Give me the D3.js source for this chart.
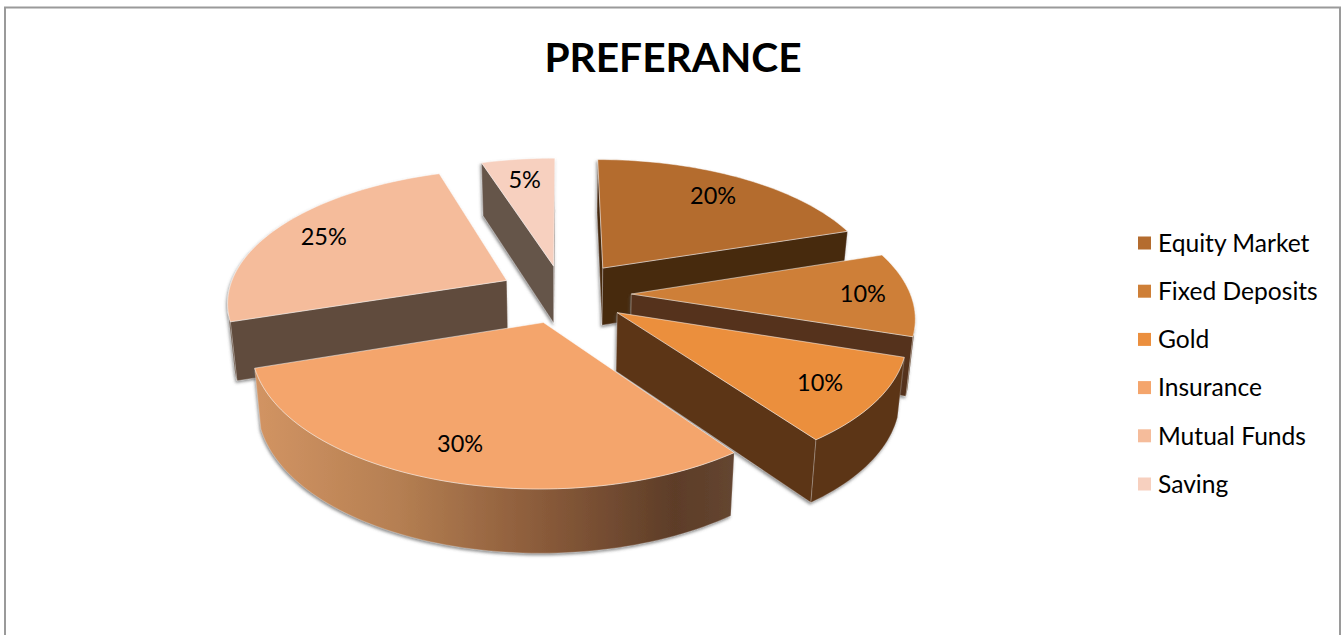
<!DOCTYPE html>
<html>
<head>
<meta charset="utf-8">
<script src="https://cdnjs.cloudflare.com/ajax/libs/d3/7.8.5/d3.min.js"></script>
<style>
html,body{margin:0;padding:0;background:#fff;overflow:hidden}
svg{display:block}
text{font-family:Lato,"Open Sans",sans-serif;fill:#000}
</style>
</head>
<body>
<svg id="c" width="1342" height="635"></svg>
<script>
const titleText = "PREFERANCE";
const categories = ["Equity Market","Fixed Deposits","Gold","Insurance","Mutual Funds","Saving"];
const shares = [20,10,10,30,25,5];
const topColors = ["#B46C2F","#CE7F37","#EB8F3E","#F4A56C","#F5BC9B","#F7D0BF"];
const sideColors = ["#472911","#55331A","#5C3619","url(#insWall)","#614B3C","#65544A"];
const explosions = [0.25,0.245,0.235,0.22,0.23,0.22];
const labelRadii = [0.78,0.83,0.8,0.8,0.8,0.79];
const drawOrder = [5,0,4,1,2,3];

const W=1342,H=635;
const svg=d3.select("#c");
const defs=svg.append("defs");

const grad=defs.append("linearGradient").attr("id","insWall").attr("gradientUnits","userSpaceOnUse")
  .attr("x1",255).attr("x2",732).attr("y1",0).attr("y2",0);
[[0,"#D29463"],[0.3,"#B57F52"],[0.6,"#8A5B3A"],[0.88,"#5D3D28"],[1,"#644530"]].forEach(s=>
  grad.append("stop").attr("offset",s[0]).attr("stop-color",s[1]));

const f=defs.append("filter").attr("id","shadow").attr("x","-10%").attr("y","-10%").attr("width","120%").attr("height","125%");
f.append("feDropShadow").attr("dx",-1).attr("dy",2).attr("stdDeviation",1.6).attr("flood-color","#555").attr("flood-opacity",0.65);

// frame
svg.append("path").attr("d",`M5,${H}V7.5H1340V${H}`).attr("fill","none").attr("stroke","#9a9a9a").attr("stroke-width",2);

// title
svg.append("text").attr("x",673).attr("y",72).attr("text-anchor","middle")
  .attr("font-size",40.7).attr("font-weight",700).text(titleText);

// 3D projection of the pie plane
const cx=563,cy=294,ax=279,by=132,k=0.15,depth=58;
function project(X,Y,z){
  const den=1+k*Y;
  const conv=1-0.02*z;
  return [cx+ax*X/den*conv, cy-by*Y/den+z*depth/(1+0.08*Y)];
}
const arcs=d3.pie().sort(null).value(d=>d)(shares);
function pt(i,a,r,z){
  const d=arcs[i],b=(d.startAngle+d.endAngle)/2,e=explosions[i];
  return project(e*Math.sin(b)+r*Math.sin(a), e*Math.cos(b)+r*Math.cos(a), z);
}
const line=d3.line();
const closed=pts=>line(pts)+"Z";
const area2=q=>{let s=0;q.forEach((p,j)=>{const n=q[(j+1)%q.length];s+=p[0]*n[1]-n[0]*p[1];});return s;};

drawOrder.forEach(i=>{
  const d=arcs[i];
  const g=svg.append("g").attr("filter","url(#shadow)");
  const n=Math.max(4,Math.ceil((d.endAngle-d.startAngle)/(Math.PI/120)));
  const angs=d3.range(n+1).map(j=>d.startAngle+(d.endAngle-d.startAngle)*j/n);

  const wall=(a1,r1,a2,r2)=>[pt(i,a1,r1,0),pt(i,a2,r2,0),pt(i,a2,r2,1),pt(i,a1,r1,1)];
  // radial walls, kept only when they face the viewer
  [wall(d.startAngle,0,d.startAngle,1),wall(d.endAngle,1,d.endAngle,0)].forEach(q=>{
    if(area2(q)<0){
      g.append("path").attr("d",closed(q)).attr("fill",sideColors[i])
        .attr("stroke","rgba(255,255,255,0.35)").attr("stroke-width",0.8);
    }
  });
  // outer curved wall: one path per run of viewer-facing steps
  let run=[];
  const flush=()=>{
    if(run.length){
      const up=run.map(a=>pt(i,a,1,0));
      const low=run.slice().reverse().map(a=>pt(i,a,1,1));
      g.append("path").attr("d",closed(up.concat(low))).attr("fill",sideColors[i])
        .attr("stroke","rgba(255,255,255,0.3)").attr("stroke-width",0.7);
    }
    run=[];
  };
  for(let j=0;j<n;j++){
    if(area2(wall(angs[j],1,angs[j+1],1))<0){
      if(!run.length) run.push(angs[j]);
      run.push(angs[j+1]);
    } else flush();
  }
  flush();
  // top face
  const top=[pt(i,0,0,0)].concat(angs.map(a=>pt(i,a,1,0)));
  g.append("path").attr("d",closed(top)).attr("fill",topColors[i])
    .attr("stroke","rgba(255,255,255,0.55)").attr("stroke-width",0.9).attr("stroke-linejoin","round");
});

// data labels
const total=d3.sum(shares);
arcs.forEach((d,i)=>{
  const b=(d.startAngle+d.endAngle)/2;
  const p=pt(i,b,labelRadii[i],0);
  svg.append("text").attr("x",p[0]).attr("y",p[1]).attr("dy","0.35em").attr("text-anchor","middle")
    .attr("font-size",23.5).text(Math.round(d.value/total*100)+"%");
});

// legend
const ly=d3.scalePoint().domain(categories).range([243,484]);
const lg=svg.append("g");
categories.forEach((c,i)=>{
  lg.append("rect").attr("x",1138).attr("y",ly(c)-6.5).attr("width",13).attr("height",13).attr("fill",topColors[i]);
  lg.append("text").attr("x",1158).attr("y",ly(c)).attr("dy","0.36em").attr("font-size",24.6).text(c);
});
</script>
</body>
</html>
